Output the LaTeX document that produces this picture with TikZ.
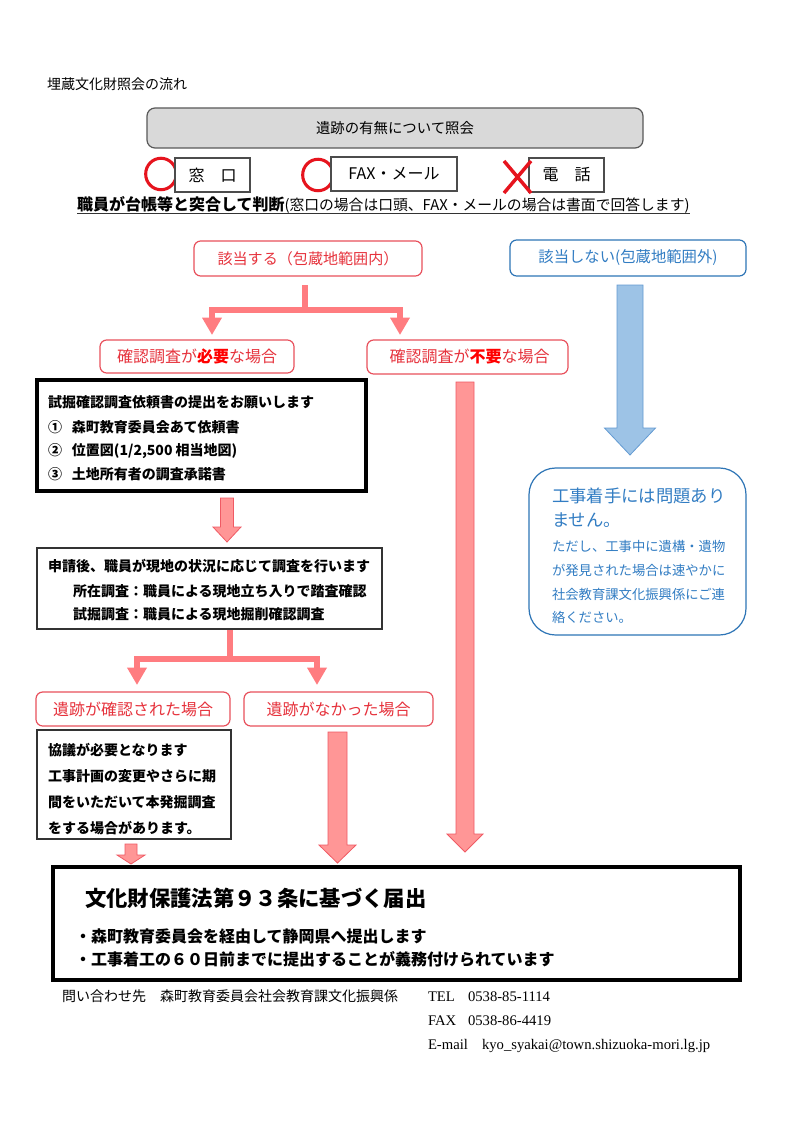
\documentclass[tikz,border=0pt]{standalone}
\usepackage{fontspec}
\setmainfont{Noto Sans CJK JP}
\newfontfamily\serifL{Liberation Serif}
\usetikzlibrary{arrows.meta,calc,fit}
\definecolor{boxred}{RGB}{232,80,92}
\definecolor{textred}{RGB}{230,50,60}
\definecolor{boxblue}{RGB}{46,117,182}
\definecolor{textblue}{RGB}{50,125,195}
\definecolor{pinkarr}{RGB}{255,124,128}
\definecolor{pinkfill}{RGB}{255,150,150}
\definecolor{pinkedge}{RGB}{240,90,100}
\definecolor{bluefill}{RGB}{157,195,230}
\definecolor{blueedge}{RGB}{100,155,210}
\definecolor{grayfill}{RGB}{217,217,217}
\definecolor{markred}{RGB}{230,20,30}
\newcommand\setfs[1]{\fontsize{#1}{#1}\selectfont}
\newcommand\blockarrow[6]{%
  \draw[#1] ($(#2)+(-#4,0)$) -- ($(#2)+(#4,0)$) -- ($(#3)+(#4,-#6)$) -- ($(#3)+(#5,-#6)$) -- (#3) -- ($(#3)+(-#5,-#6)$) -- ($(#3)+(-#4,-#6)$) -- cycle;}
\tikzset{
  every node/.style={inner sep=0pt, outer sep=0pt},
  redbox/.style={draw=boxred, line width=0.9pt, rounded corners=5pt, fill=white},
  redtext/.style={text=textred, font=\setfs{12pt}},
  bluebox/.style={draw=boxblue, line width=0.9pt, rounded corners=5pt, fill=white},
  thickbox/.style={draw=black, line width=3pt},
  thinbox/.style={draw=black!80, line width=0.8pt},
  optbox/.style={draw=black!70, line width=0.9pt, fill=white},
  opttext/.style={font=\setfs{12pt}},
  pinkline/.style={draw=pinkarr, line width=4.5pt},
  pinktip/.style={-{Triangle[width=14pt,length=13pt]}},
  pinkblock/.style={fill=pinkfill, draw=pinkedge, line width=0.6pt},
  blueblock/.style={fill=bluefill, draw=blueedge, line width=0.6pt},
  txt/.style={anchor=west},
  foot/.style={anchor=base west, font=\serifL\setfs{11pt}},
  bodyb/.style={anchor=west, font=\bfseries\setfs{10.5pt}},
  redmark/.style={draw=markred, line width=2.3pt},
}
\begin{document}
\begin{tikzpicture}[x=0.75pt,y=-0.75pt]
\useasboundingbox[fill=white] (0,0) rectangle (794,1123);

% title
\node[txt, font=\setfs{10.5pt}] (title) at (47,84) {埋蔵文化財照会の流れ};

% query box
\node[draw=black!65, line width=0.9pt, fill=grayfill, rounded corners=6pt, fit={(147,108)(643,148)}] (query) {};
\node[font=\setfs{10.8pt}] (queryt) at (query.center) {遺跡の有無について照会};

% options
\draw[redmark] (161,174) ellipse [x radius=11.5pt, y radius=11.8pt];
\draw[redmark] (318,175) ellipse [x radius=11.5pt, y radius=11.8pt];
\node[optbox, fit={(175,158)(250,192)}] (window) {};
\node[opttext] (windowt) at (window.center) {窓　口};
\node[optbox, fit={(331,157)(457,191)}] (fax) {};
\node[opttext] (faxt) at (fax.center) {FAX・メール};
\node[optbox, fit={(529,158)(604,192)}] (phone) {};
\node[opttext] (phonet) at (phone.center) {電　話};
\draw[redmark, line width=2.6pt] (504,161) -- (531,193) (531,161) -- (504,193);

% judgement
\node[anchor=base west] (judge) at (77,210) {\bfseries\setfs{12pt}職員が台帳等と突合して判断\mdseries\setfs{11.1pt}(窓口の場合は口頭、FAX・メールの場合は書面で回答します)};
\draw[line width=1.1pt, black!80] ($(judge.base west)+(0,3.5)$) -- ($(judge.base east)+(0,3.5)$);

% top branch
\node[redbox, fit={(194,241)(422,276)}] (hit) {};
\node[redtext, font=\setfs{11.3pt}] (hitt) at (hit.center) {該当する（包蔵地範囲内）};
\node[bluebox, fit={(510,240)(746,276)}] (nohit) {};
\node[text=textblue, font=\setfs{11.5pt}] (nohitt) at (nohit.center) {該当しない(包蔵地範囲外)};

\coordinate (s1) at (305,285);
\coordinate (j1) at (305,310);
\coordinate (t1a) at (212,335);
\coordinate (t1b) at (400,335);
\draw[pinkline] (s1) -- (j1);
\draw[pinkline, pinktip] (j1) -| (t1a);
\draw[pinkline, pinktip] (j1) -| (t1b);

\node[redbox, fit={(100,340)(294,373)}] (nec) {};
\node[redtext] (nect) at (nec.center) {確認調査が{\bfseries\color{red}必要}な場合};
\node[redbox, fit={(367,340)(568,374)}] (unnec) {};
\node[redtext] (unnect) at ($(unnec.center)+(2,0)$) {確認調査が{\bfseries\color{red}不要}な場合};

% box 1
\node[thickbox, fit={(37,380)(366,491)}] (box1) {};
\node[bodyb] (b1l1) at (48,402) {試掘確認調査依頼書の提出をお願いします};
\node[bodyb] (b1l2) at (48,427) {①\hspace{7.5pt}森町教育委員会あて依頼書};
\node[bodyb] (b1l3) at (48,451) {②\hspace{7.5pt}位置図(1/2,500 相当地図)};
\node[bodyb] (b1l4) at (48,474) {③\hspace{7.5pt}土地所有者の調査承諾書};

\coordinate (a1s) at (227,498);
\coordinate (a1t) at (227,542);
\blockarrow{pinkblock}{a1s}{a1t}{6.5}{14}{15}

% box 2
\node[thinbox, fit={(37,548)(382,629)}] (box2) {};
\node[bodyb] (b2l1) at (48,566) {申請後、職員が現地の状況に応じて調査を行います};
\node[bodyb] (b2l2) at (73,591) {所在調査：職員による現地立ち入りで踏査確認};
\node[bodyb] (b2l3) at (73,614) {試掘調査：職員による現地掘削確認調査};

\coordinate (s2) at (230,630);
\coordinate (j2) at (230,659);
\coordinate (t2a) at (137,685);
\coordinate (t2b) at (317,685);
\draw[pinkline] (s2) -- (j2);
\draw[pinkline, pinktip] (j2) -| (t2a);
\draw[pinkline, pinktip] (j2) -| (t2b);

\node[redbox, fit={(36,692)(230,726)}] (found) {};
\node[redtext] (foundt) at (found.center) {遺跡が確認された場合};
\node[redbox, fit={(244,692)(433,726)}] (notfound) {};
\node[redtext] (notfoundt) at (notfound.center) {遺跡がなかった場合};

\node[thinbox, fit={(37,730)(231,839)}] (kyogi) {};
\node[bodyb] (k1) at (48,750) {協議が必要となります};
\node[bodyb] (k2) at (48,776) {工事計画の変更やさらに期};
\node[bodyb] (k3) at (48,802) {間をいただいて本発掘調査};
\node[bodyb] (k4) at (48,828) {をする場合があります。};

% block arrows to final
\coordinate (a4s) at (131,844);
\coordinate (a4t) at (131,864);
\blockarrow{pinkblock}{a4s}{a4t}{6}{14}{9}
\coordinate (a2s) at (337.5,732);
\coordinate (a2t) at (337.5,863);
\blockarrow{pinkblock}{a2s}{a2t}{9.5}{18.5}{18}
\coordinate (a3s) at (465,382);
\coordinate (a3t) at (465,852);
\blockarrow{pinkblock}{a3s}{a3t}{9}{18}{18}

% blue branch
\coordinate (bs) at (630,285);
\coordinate (bt) at (630,455);
\blockarrow{blueblock}{bs}{bt}{13}{25.5}{27}
\node[draw=boxblue, line width=0.9pt, rounded corners=20pt, fit={(529,468)(746,635)}] (okbox) {};
\node[txt, text=textblue, font=\setfs{13pt}] (o1) at (552,496) {工事着手には問題あり};
\node[txt, text=textblue, font=\setfs{13pt}] (o2) at (552,520) {ません。};
\node[txt, text=textblue, font=\setfs{10pt}] (o3) at (552,546) {ただし、工事中に遺構・遺物};
\node[txt, text=textblue, font=\setfs{10pt}] (o4) at (552,570) {が発見された場合は速やかに};
\node[txt, text=textblue, font=\setfs{10pt}] (o5) at (552,594) {社会教育課文化振興係にご連};
\node[txt, text=textblue, font=\setfs{10pt}] (o6) at (552,617) {絡ください。};

% final box
\node[thickbox, fit={(53,867)(740,980)}] (final) {};
\node[txt, font=\bfseries\setfs{16pt}] (f1) at (85,898) {文化財保護法第９３条に基づく届出};
\node[txt, font=\bfseries\setfs{12pt}] (f2) at (75,936) {・森町教育委員会を経由して静岡県へ提出します};
\node[txt, font=\bfseries\setfs{12pt}] (f3) at (75,959) {・工事着工の６０日前までに提出することが義務付けられています};

% footer
\node[anchor=base west, font=\setfs{10.5pt}] (contact) at (62,1001) {問い合わせ先　森町教育委員会社会教育課文化振興係};
\node[foot] (tel) at (428,1001) {TEL};
\node[foot] (telno) at (468,1001) {0538-85-1114};
\node[foot] (faxl) at (428,1025) {FAX};
\node[foot] (faxno) at (468,1025) {0538-86-4419};
\node[foot] (maill) at (428,1049) {E-mail};
\node[foot] (mail) at (482,1049) {kyo\_syakai@town.shizuoka-mori.lg.jp};
\end{tikzpicture}
\end{document}
